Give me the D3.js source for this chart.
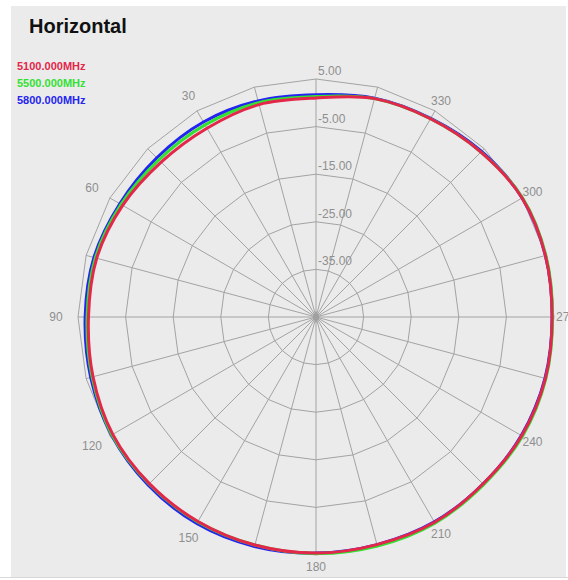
<!DOCTYPE html>
<html>
<head>
<meta charset="utf-8">
<script src="https://cdn.jsdelivr.net/npm/d3@7"></script>
<style>
  body { margin: 0; background: #fff; }
  svg { display: block; font-family: Arial, "Liberation Sans", sans-serif; }
</style>
</head>
<body>
<div id="polar-chart"></div>
<script>
// angles in degrees, counter-clockwise from the top
var angles = [0, 15, 30, 45, 60, 75, 90, 105, 120, 135, 150, 165,
              180, 195, 210, 225, 240, 255, 270, 285, 300, 315, 330, 345];

// gain in dB
var gain5100 = [1.0, 1.2, 0.8, 1.0, 1.9, 2.7, 2.8, 3.5, 4.3, 4.5, 4.6, 4.6,
                4.6, 4.5, 4.8, 4.6, 4.9, 4.9, 4.6, 4.9, 5.0, 4.0, 3.1, 2.5];
var gain5500 = [1.3, 1.6, 1.6, 1.7, 2.3, 3.0, 3.1, 3.7, 4.5, 4.6, 4.7, 4.6,
                4.7, 4.8, 5.0, 4.8, 5.1, 5.0, 4.7, 5.0, 5.1, 4.0, 3.1, 2.5];
var gain5800 = [1.7, 2.0, 2.3, 2.3, 2.6, 3.3, 3.5, 4.0, 4.6, 4.9, 5.1, 4.9,
                4.6, 4.5, 4.7, 4.6, 4.8, 4.8, 4.6, 4.9, 5.0, 4.2, 3.2, 2.6];

var seriesNames = ["5100.000MHz", "5500.000MHz", "5800.000MHz"];
var seriesColors = ["#e3264a", "#33e033", "#2424f0"];

var ringTicks = [-35, -25, -15, -5, 5];
var angleTicks = [30, 60, 90, 120, 150, 180, 210, 240, 270, 300, 330];

var width = 568, height = 580;
var cx = 316, cy = 317, R = 238;

var svg = d3.select("#polar-chart")
  .append("svg")
  .attr("width", width)
  .attr("height", height);

// panel background
svg.append("rect")
  .attr("x", 11).attr("y", 6)
  .attr("width", 555).attr("height", 571)
  .attr("fill", "#ebebeb");

svg.append("text")
  .attr("x", 29).attr("y", 33)
  .style("font-size", "20px")
  .style("font-weight", "bold")
  .attr("fill", "#111")
  .text("Horizontal");

// legend
svg.selectAll("text.legend")
  .data(seriesNames)
  .enter().append("text")
  .attr("class", "legend")
  .attr("x", 17)
  .attr("y", function(d, i) { return 70 + 17 * i; })
  .style("font-size", "11px")
  .style("font-weight", "bold")
  .attr("fill", function(d, i) { return seriesColors[i]; })
  .text(function(d) { return d; });

var r = d3.scaleLinear().domain([-45, 5]).range([0, R]);
var toRad = function(a) { return -a * Math.PI / 180; };

var g = svg.append("g")
  .attr("transform", "translate(" + cx + "," + cy + ")");

// polygon rings
var ringLine = d3.lineRadial()
  .angle(function(a) { return toRad(a); })
  .curve(d3.curveLinearClosed);

g.selectAll("path.ring")
  .data(ringTicks)
  .enter().append("path")
  .attr("class", "ring")
  .attr("d", function(v) { return ringLine.radius(r(v))(angles); })
  .attr("fill", "none")
  .attr("stroke", "#a3a3a3")
  .attr("stroke-width", 1);

// spokes
g.selectAll("line.spoke")
  .data(angles)
  .enter().append("line")
  .attr("class", "spoke")
  .attr("x1", 0).attr("y1", 0)
  .attr("x2", function(a) { return R * Math.sin(toRad(a)); })
  .attr("y2", function(a) { return -R * Math.cos(toRad(a)); })
  .attr("stroke", "#a3a3a3")
  .attr("stroke-width", 1);

g.append("path")
  .attr("d", d3.symbol().type(d3.symbolDiamond).size(40)())
  .attr("fill", "#a0a0a0");

// ring labels
g.selectAll("text.rlabel")
  .data(ringTicks)
  .enter().append("text")
  .attr("class", "rlabel")
  .attr("x", 2)
  .attr("y", function(v) { return -r(v) - 4; })
  .style("font-size", "12px")
  .attr("fill", "#8f8f8f")
  .text(function(v) { return v.toFixed(2); });

// angle labels
g.selectAll("text.alabel")
  .data(angleTicks)
  .enter().append("text")
  .attr("class", "alabel")
  .attr("text-anchor", "middle")
  .attr("dominant-baseline", "central")
  .attr("x", function(a) {
    var s = Math.sin(toRad(a));
    return (R + 12 + 10 * Math.max(0, -s)) * s;
  })
  .attr("y", function(a) {
    var s = Math.sin(toRad(a));
    return -(R + 12 + 10 * Math.max(0, -s)) * Math.cos(toRad(a));
  })
  .style("font-size", "12px")
  .attr("fill", "#8f8f8f")
  .text(function(a) { return a; });

// pattern curves, drawn blue first so red sits on top
var series = [gain5100, gain5500, gain5800];
var patternLine = d3.lineRadial()
  .angle(function(d, i) { return toRad(angles[i]); })
  .radius(function(d) { return r(d); })
  .curve(d3.curveCatmullRomClosed.alpha(0.5));

[2, 1, 0].forEach(function(k) {
  g.append("path")
    .attr("d", patternLine(series[k]))
    .attr("fill", "none")
    .attr("stroke", seriesColors[k])
    .attr("stroke-width", 3);
});

// bottom strip
svg.append("line")
  .attr("x1", 0).attr("x2", width)
  .attr("y1", 577.5).attr("y2", 577.5)
  .attr("stroke", "#d8d8d8");
</script>
</body>
</html>
